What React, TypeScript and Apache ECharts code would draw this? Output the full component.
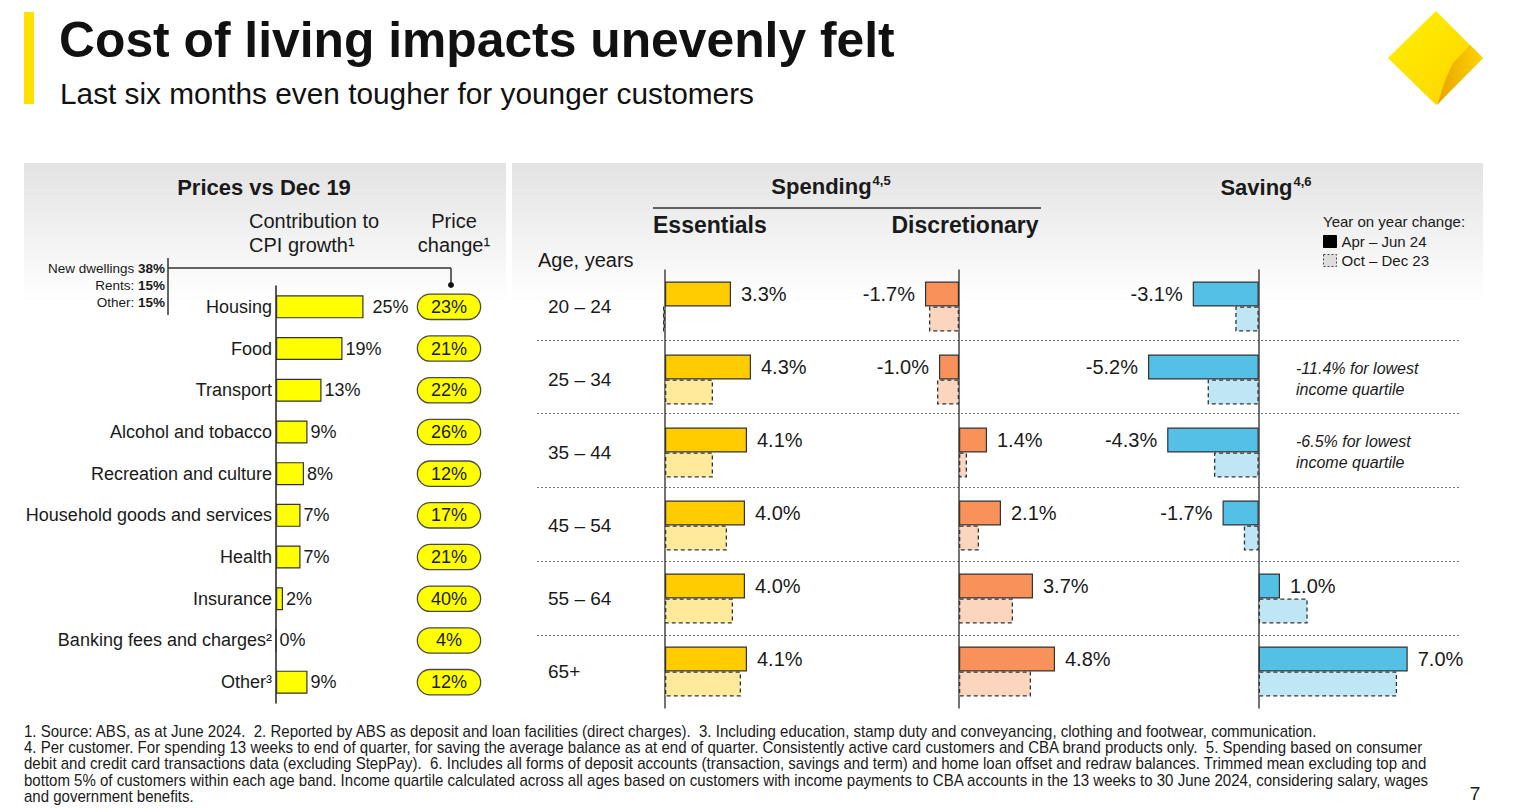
import React, { useEffect, useRef } from 'react';
import * as echarts from 'echarts';

// ---------- Data ----------
const CPI_CATEGORIES = [
  'Housing',
  'Food',
  'Transport',
  'Alcohol and tobacco',
  'Recreation and culture',
  'Household goods and services',
  'Health',
  'Insurance',
  'Banking fees and charges²',
  'Other³',
];
const CPI_CONTRIBUTION = [25, 19, 13, 9, 8, 7, 7, 2, 0, 9];
const PRICE_CHANGE = [23, 21, 22, 26, 12, 17, 21, 40, 4, 12];
const HOUSING_BREAKDOWN_LABELS = ['New dwellings', 'Rents:', 'Other:'];
const HOUSING_BREAKDOWN_VALUES = ['38%', '15%', '15%'];

const AGE_BANDS = ['20 – 24', '25 – 34', '35 – 44', '45 – 54', '55 – 64', '65+'];
const ESSENTIALS_APR_JUN24 = [3.3, 4.3, 4.1, 4.0, 4.0, 4.1];
const ESSENTIALS_OCT_DEC23 = [-0.1, 2.4, 2.4, 3.1, 3.4, 3.8];
const DISCRETIONARY_APR_JUN24 = [-1.7, -1.0, 1.4, 2.1, 3.7, 4.8];
const DISCRETIONARY_OCT_DEC23 = [-1.5, -1.1, 0.4, 1.0, 2.7, 3.6];
const SAVING_APR_JUN24 = [-3.1, -5.2, -4.3, -1.7, 1.0, 7.0];
const SAVING_OCT_DEC23 = [-1.1, -2.4, -2.1, -0.7, 2.3, 6.5];

const PERIOD_CURRENT = 'Apr – Jun 24';
const PERIOD_PRIOR = 'Oct – Dec 23';

const FOOTNOTES = [
  '1. Source: ABS, as at June 2024.  2. Reported by ABS as deposit and loan facilities (direct charges).  3. Including education, stamp duty and conveyancing, clothing and footwear, communication.',
  '4. Per customer. For spending 13 weeks to end of quarter, for saving the average balance as at end of quarter. Consistently active card customers and CBA brand products only.  5. Spending based on consumer',
  'debit and credit card transactions data (excluding StepPay).  6. Includes all forms of deposit accounts (transaction, savings and term) and home loan offset and redraw balances. Trimmed mean excluding top and',
  'bottom 5% of customers within each age band. Income quartile calculated across all ages based on customers with income payments to CBA accounts in the 13 weeks to 30 June 2024, considering salary, wages',
  'and government benefits.',
];

// ---------- Styling ----------
const FONT = '"Liberation Sans", Arial, sans-serif';
const INK = '#1a1a1a';
const EDGE = '#333333';

const fmtPct = (v: number) => v.toFixed(1) + '%';

function barItems(values: number[]) {
  return values.map((v) => ({
    value: v,
    label: { position: v < 0 ? 'left' : 'right' },
  }));
}

function solidSeries(name: string, xi: number, yi: number, values: number[], color: string) {
  return {
    type: 'bar',
    name,
    xAxisIndex: xi,
    yAxisIndex: yi,
    barWidth: 25,
    barGap: '0%',
    data: barItems(values),
    itemStyle: { color, borderColor: EDGE, borderWidth: 1.2 },
    label: {
      show: true,
      distance: 10,
      fontSize: 20,
      color: INK,
      fontFamily: FONT,
      formatter: (p: any) => fmtPct(p.value),
    },
  };
}

function dashedSeries(name: string, xi: number, yi: number, values: number[], color: string) {
  return {
    type: 'bar',
    name,
    xAxisIndex: xi,
    yAxisIndex: yi,
    barWidth: 25,
    barGap: '0%',
    data: values,
    itemStyle: { color, borderColor: EDGE, borderWidth: 1.3, borderType: [4, 3] },
  };
}

function valueAxis(gridIndex: number, min: number, max: number) {
  return { type: 'value', gridIndex, min, max, show: false };
}

function ageAxis(gridIndex: number, showLabels: boolean) {
  return {
    type: 'category',
    gridIndex,
    inverse: true,
    data: AGE_BANDS,
    axisTick: { show: false },
    axisLine: { show: true, onZero: true, lineStyle: { color: '#444', width: 1.5 } },
    axisLabel: {
      show: showLabels,
      margin: 97,
      align: 'left',
      fontSize: 19,
      color: INK,
      fontFamily: FONT,
    },
    splitLine: { show: false },
  };
}

function txt(x: number, y: number, text: string, opts: any = {}, extra: any = {}) {
  return {
    type: 'text',
    x,
    y,
    silent: true,
    ...extra,
    style: {
      text,
      fill: INK,
      fontFamily: FONT,
      fontSize: 18,
      align: 'left',
      verticalAlign: 'middle',
      ...opts,
    },
  };
}

function line(x1: number, y1: number, x2: number, y2: number, stroke = EDGE, lineWidth = 1.5) {
  return { type: 'line', silent: true, shape: { x1, y1, x2, y2 }, style: { stroke, lineWidth } };
}

function buildOption() {
  const panelFill = new echarts.graphic.LinearGradient(0, 0, 0, 1, [
    { offset: 0, color: '#e3e3e3' },
    { offset: 1, color: '#ffffff' },
  ]);

  const graphics: any[] = [
    // panel backgrounds
    { type: 'rect', silent: true, z: -10, shape: { x: 24, y: 163, width: 482, height: 140 }, style: { fill: panelFill } },
    { type: 'rect', silent: true, z: -10, shape: { x: 512, y: 163, width: 971, height: 140 }, style: { fill: panelFill } },
    // accent bar
    { type: 'rect', silent: true, shape: { x: 24, y: 12, width: 10, height: 92 }, style: { fill: '#FFE100' } },
    // title
    txt(59, 40, 'Cost of living impacts unevenly felt', { fontSize: 49.8, fontWeight: 'bold', fill: '#111' }),
    txt(60, 93, 'Last six months even tougher for younger customers', { fontSize: 29.8, fill: '#111' }),
    // left header
    txt(264, 187, 'Prices vs Dec 19', { fontSize: 22, fontWeight: 'bold', align: 'center' }),
    txt(249, 221, 'Contribution to', { fontSize: 20 }),
    txt(249, 245, 'CPI growth¹', { fontSize: 20 }),
    txt(454, 221, 'Price', { fontSize: 20, align: 'center' }),
    txt(454, 245, 'change¹', { fontSize: 20, align: 'center' }),
    // bracket
    line(168, 258, 168, 315),
    line(168, 268, 451, 268),
    line(451, 268, 451, 284),
    { type: 'circle', silent: true, shape: { cx: 451, cy: 285, r: 3 }, style: { fill: '#111' } },
    // right header
    txt(831, 186, '{a|Spending}{s|4,5}', {
      align: 'center',
      rich: {
        a: { fontSize: 22, fontWeight: 'bold', fill: INK, fontFamily: FONT },
        s: { fontSize: 13, fontWeight: 'bold', fill: INK, fontFamily: FONT, padding: [0, 0, 12, 1] },
      },
    }),
    line(653, 208, 1041, 208, '#333', 1.5),
    txt(653, 225, 'Essentials', { fontSize: 23, fontWeight: 'bold' }),
    txt(965, 225, 'Discretionary', { fontSize: 23, fontWeight: 'bold', align: 'center' }),
    txt(1266, 187, '{a|Saving}{s|4,6}', {
      align: 'center',
      rich: {
        a: { fontSize: 22, fontWeight: 'bold', fill: INK, fontFamily: FONT },
        s: { fontSize: 13, fontWeight: 'bold', fill: INK, fontFamily: FONT, padding: [0, 0, 12, 1] },
      },
    }),
    txt(538, 260, 'Age, years', { fontSize: 20 }),
    txt(1323, 221, 'Year on year change:', { fontSize: 15 }),
    // annotations
    txt(1296, 368, '-11.4% for lowest', { fontSize: 16, fontStyle: 'italic' }),
    txt(1296, 389, 'income quartile', { fontSize: 16, fontStyle: 'italic' }),
    txt(1296, 441, '-6.5% for lowest', { fontSize: 16, fontStyle: 'italic' }),
    txt(1296, 462, 'income quartile', { fontSize: 16, fontStyle: 'italic' }),
    // page number
    txt(1475, 793, '7', { fontSize: 19, align: 'center' }),
    // logo
    {
      type: 'polygon',
      silent: true,
      shape: { points: [[1436, 11], [1483, 58], [1436, 105], [1388, 58]] },
      style: {
        fill: new echarts.graphic.LinearGradient(0, 0, 1, 1, [
          { offset: 0, color: '#FFF200' },
          { offset: 1, color: '#FFD000' },
        ]),
      },
    },
    {
      type: 'polygon',
      silent: true,
      shape: { points: [[1470, 45], [1483, 58], [1437, 105], [1446, 78], [1453, 63]] },
      style: {
        fill: new echarts.graphic.LinearGradient(0, 0, 1, 0, [
          { offset: 0, color: '#E6A400' },
          { offset: 1, color: '#FFD400' },
        ]),
      },
    },
  ];

  HOUSING_BREAKDOWN_LABELS.forEach((lab, i) => {
    graphics.push(
      txt(165, 268 + i * 17, `${lab} {b|${HOUSING_BREAKDOWN_VALUES[i]}}`, {
        fontSize: 13.5,
        align: 'right',
        rich: { b: { fontSize: 13.5, fontWeight: 'bold', fill: INK, fontFamily: FONT } },
      })
    );
  });

  FOOTNOTES.forEach((t, i) => {
    graphics.push(txt(24, 731 + i * 16.3, t, { fontSize: 16 }, { scaleX: 0.94, originX: 0 }));
  });

  return {
    animation: false,
    textStyle: { fontFamily: FONT },
    legend: {
      orient: 'vertical',
      left: 1323,
      top: 234,
      padding: 0,
      itemWidth: 13,
      itemHeight: 12,
      itemGap: 4,
      selectedMode: false,
      icon: 'rect',
      textStyle: { fontSize: 15, color: INK, fontFamily: FONT, padding: [0, 0, 0, 0] },
      data: [
        { name: PERIOD_CURRENT, itemStyle: { color: '#000', borderColor: '#000', borderWidth: 1 } },
        { name: PERIOD_PRIOR, itemStyle: { color: '#dddddd', borderColor: '#444', borderWidth: 1, borderType: [2, 2] } },
      ],
    },
    grid: [
      { left: 276, top: 286, width: 140, height: 417 }, // CPI
      { left: 645, top: 270, width: 120, height: 438 }, // essentials
      { left: 899, top: 270, width: 160, height: 438 }, // discretionary
      { left: 1131, top: 270, width: 298, height: 438 }, // saving
      { left: 537, top: 266, width: 923, height: 443 }, // separators
    ],
    xAxis: [
      valueAxis(0, 0, 40),
      valueAxis(1, -1, 5),
      valueAxis(2, -3, 5),
      valueAxis(3, -6, 8),
      valueAxis(4, 0, 1),
    ],
    yAxis: [
      {
        type: 'category',
        gridIndex: 0,
        inverse: true,
        data: CPI_CATEGORIES,
        axisTick: { show: false },
        axisLine: { show: true, lineStyle: { color: '#222', width: 1.5 } },
        axisLabel: { margin: 4, fontSize: 18, color: INK, fontFamily: FONT },
      },
      {
        type: 'category',
        gridIndex: 0,
        inverse: true,
        position: 'right',
        data: CPI_CATEGORIES,
        axisTick: { show: false },
        axisLine: { show: false, onZero: false },
        axisLabel: {
          margin: 33,
          align: 'center',
          formatter: (_v: string, i: number) => PRICE_CHANGE[i] + '%',
          fontSize: 18,
          lineHeight: 20,
          color: INK,
          fontFamily: FONT,
          backgroundColor: '#FFFF00',
          borderColor: '#4a4a4a',
          borderWidth: 1.3,
          borderRadius: 12,
          width: 58,
          padding: [2, 2],
        },
      },
      ageAxis(1, true),
      ageAxis(2, false),
      ageAxis(3, false),
      {
        type: 'category',
        gridIndex: 4,
        inverse: true,
        data: AGE_BANDS,
        axisLine: { show: false },
        axisTick: { show: false },
        axisLabel: { show: false },
        splitLine: {
          show: true,
          showMinLine: false,
          showMaxLine: false,
          lineStyle: { type: [2, 2], color: '#777', width: 1 },
        },
      },
    ],
    series: [
      {
        type: 'bar',
        name: 'Contribution to CPI growth',
        xAxisIndex: 0,
        yAxisIndex: 0,
        barWidth: 23,
        data: CPI_CONTRIBUTION.map((v, i) => (i === 0 ? { value: v, label: { distance: 9 } } : v)),
        itemStyle: { color: '#FFFF00', borderColor: EDGE, borderWidth: 1.2 },
        label: {
          show: true,
          position: 'right',
          distance: 3,
          fontSize: 18,
          color: INK,
          fontFamily: FONT,
          formatter: '{c}%',
        },
      },
      solidSeries(PERIOD_CURRENT, 1, 2, ESSENTIALS_APR_JUN24, '#FFCC00'),
      dashedSeries(PERIOD_PRIOR, 1, 2, ESSENTIALS_OCT_DEC23, '#FFEA9C'),
      solidSeries(PERIOD_CURRENT, 2, 3, DISCRETIONARY_APR_JUN24, '#F8925A'),
      dashedSeries(PERIOD_PRIOR, 2, 3, DISCRETIONARY_OCT_DEC23, '#FCD5BF'),
      solidSeries(PERIOD_CURRENT, 3, 4, SAVING_APR_JUN24, '#55C0E6'),
      dashedSeries(PERIOD_PRIOR, 3, 4, SAVING_OCT_DEC23, '#BEE6F5'),
    ],
    graphic: { elements: graphics },
  };
}

export default function App() {
  const ref = useRef<HTMLDivElement>(null);
  useEffect(() => {
    document.body.style.margin = '0';
    const chart = echarts.init(ref.current as HTMLDivElement, null, { renderer: 'svg' });
    chart.setOption(buildOption() as any);
    return () => chart.dispose();
  }, []);
  return <div ref={ref} style={{ width: 1513, height: 811, background: '#fff' }} />;
}
